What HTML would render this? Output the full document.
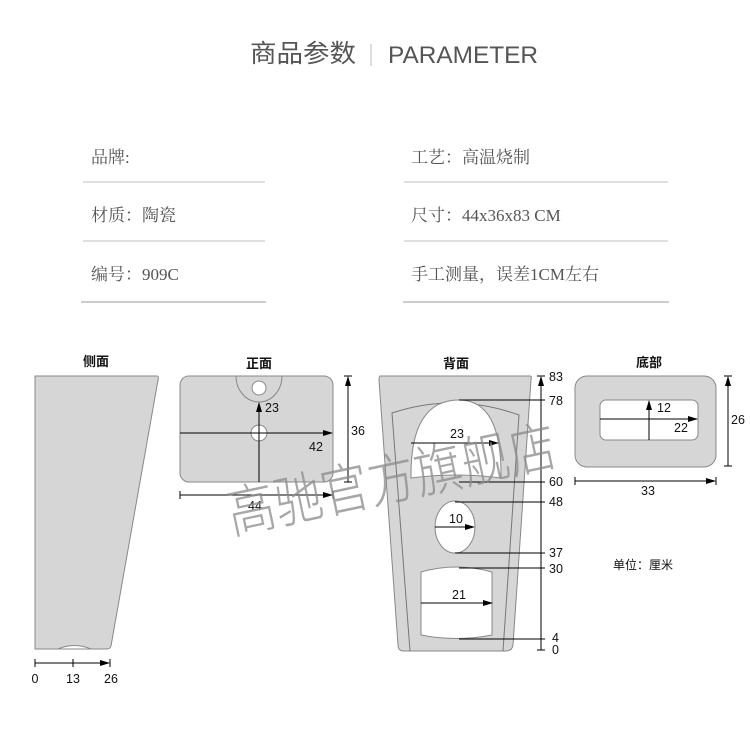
<!DOCTYPE html>
<html><head><meta charset="utf-8"><style>
html,body{margin:0;padding:0;background:#fff;}
svg{display:block;}
.s{font-family:"Liberation Serif","Noto Serif CJK SC",serif;fill:#555;font-size:17px;}
.d{font-family:"Liberation Sans","Noto Sans CJK SC",sans-serif;font-size:12.5px;fill:#111;}
.t{font-family:"Liberation Sans","Noto Sans CJK SC",sans-serif;font-size:13px;fill:#111;font-weight:bold;}
</style></head><body>
<svg width="750" height="730" viewBox="0 0 750 730" xmlns="http://www.w3.org/2000/svg">
<defs><marker id="a" markerWidth="10" markerHeight="8" refX="9" refY="4" orient="auto" markerUnits="userSpaceOnUse"><path d="M0,1 L10,4 L0,7 z" fill="#000"/></marker></defs>
<text x="250" y="62" font-family="Liberation Sans,Noto Sans CJK SC,sans-serif" font-size="25" fill="#555" textLength="106" lengthAdjust="spacingAndGlyphs">商品参数</text>
<line x1="371" y1="44" x2="371" y2="66" stroke="#bbb"/>
<text x="388" y="63" font-family="Liberation Sans,sans-serif" font-size="24" fill="#555" textLength="150" lengthAdjust="spacingAndGlyphs">PARAMETER</text>
<g class="s">
<text x="91" y="163">品牌:</text>
<text x="91" y="221">材质：陶瓷</text>
<text x="91" y="280">编号：909C</text>
<text x="411" y="163">工艺：高温烧制</text>
<text x="411" y="221">尺寸：44x36x83 CM</text>
<text x="411" y="280">手工测量，误差1CM左右</text>
</g>
<g stroke="#ccc" stroke-width="1.2">
<line x1="83" y1="182" x2="265" y2="182"/><line x1="83" y1="241" x2="265" y2="241"/><line x1="81" y1="302" x2="266" y2="302" stroke-width="2"/>
<line x1="404" y1="182" x2="668" y2="182"/><line x1="404" y1="241" x2="668" y2="241"/><line x1="403" y1="302" x2="669" y2="302" stroke-width="2"/>
</g>
<text class="t" x="96" y="366" text-anchor="middle">侧面</text>
<text class="t" x="259" y="368" text-anchor="middle">正面</text>
<text class="t" x="456" y="368" text-anchor="middle">背面</text>
<text class="t" x="649" y="367" text-anchor="middle">底部</text>
<path d="M35,376 L157,376 Q159,376 158,380 L111,646 Q110,649 107,649 L35,649 Z" fill="#d6d6d6" stroke="#888"/>
<path d="M58,649 Q74,642 91,649 Z" fill="#fff" stroke="#888"/>
<g stroke="#000" fill="none"><line x1="35" y1="663" x2="109" y2="663" marker-end="url(#a)"/><line x1="35" y1="659" x2="35" y2="667"/><line x1="73" y1="659" x2="73" y2="667"/><line x1="110" y1="659" x2="110" y2="667"/></g>
<g class="d" font-size="13"><text x="35" y="683" text-anchor="middle">0</text><text x="73" y="683" text-anchor="middle">13</text><text x="111" y="683" text-anchor="middle">26</text></g>
<rect x="180" y="376" width="153" height="106" rx="9" fill="#d6d6d6" stroke="#888"/>
<path d="M236,376 A23,26 0 0 0 282,376" fill="none" stroke="#888"/>
<circle cx="259" cy="388" r="7" fill="#fff" stroke="#888"/>
<circle cx="259" cy="433" r="8" fill="#fff" stroke="#888"/>
<g stroke="#000" fill="none"><line x1="180" y1="433" x2="332" y2="433" marker-end="url(#a)"/><line x1="259" y1="482" x2="259" y2="403" marker-end="url(#a)"/>
<line x1="348" y1="482" x2="348" y2="377" marker-end="url(#a)"/><line x1="344" y1="376" x2="352" y2="376"/><line x1="344" y1="482" x2="352" y2="482"/>
<line x1="180" y1="495" x2="332" y2="495" marker-end="url(#a)"/><line x1="180" y1="491" x2="180" y2="499"/><line x1="333" y1="491" x2="333" y2="499"/></g>
<g class="d"><text x="265" y="412">23</text><text x="309" y="451">42</text><text x="351" y="435">36</text><text x="248" y="510">44</text></g>
<path d="M380,376 L530,376 Q532,376 531,380 L513,645 Q512,651 506,651 L404,651 Q398,651 398,645 L379,380 Q379,376 380,376 Z" fill="#d6d6d6" stroke="#888"/>
<path d="M410,651 L392,413 Q455,392 519,415 L503,651" fill="none" stroke="#777"/>
<path d="M411,478 Q410,400 459,400 Q502,400 501,478 Q456,472 411,478 Z" fill="#fff" stroke="#888"/>
<ellipse cx="455" cy="527" rx="20" ry="26" fill="#fff" stroke="#888"/>
<path d="M421,572 Q456,562 492,572 L492,635 Q456,642 421,635 Z" fill="#fff" stroke="#888"/>
<g stroke="#000" fill="none">
<line x1="541" y1="650" x2="541" y2="377" marker-end="url(#a)"/><line x1="537" y1="376" x2="545" y2="376"/><line x1="537" y1="650" x2="545" y2="650"/>
<line x1="459" y1="400" x2="545" y2="400"/><line x1="459" y1="482" x2="545" y2="482"/><line x1="455" y1="502" x2="545" y2="502"/><line x1="455" y1="553" x2="545" y2="553"/><line x1="459" y1="568" x2="545" y2="568"/><line x1="459" y1="639" x2="545" y2="639"/>
<line x1="411" y1="443" x2="498" y2="443" marker-end="url(#a)"/><line x1="435" y1="527" x2="474" y2="527" marker-end="url(#a)"/><line x1="421" y1="603" x2="492" y2="603" marker-end="url(#a)"/></g>
<g class="d"><text x="549" y="381">83</text><text x="549" y="405">78</text><text x="549" y="486">60</text><text x="549" y="506">48</text><text x="549" y="557">37</text><text x="549" y="573">30</text><text x="552" y="642">4</text><text x="552" y="654">0</text>
<text x="450" y="438">23</text><text x="449" y="523">10</text><text x="452" y="599">21</text></g>
<rect x="575" y="376" width="141" height="91" rx="12" fill="#d6d6d6" stroke="#888"/>
<rect x="600" y="400" width="98" height="40" rx="6" fill="#fff" stroke="#888"/>
<g stroke="#000" fill="none"><line x1="649" y1="440" x2="649" y2="401" marker-end="url(#a)"/><line x1="600" y1="419" x2="697" y2="419" marker-end="url(#a)"/>
<line x1="728" y1="466" x2="728" y2="377" marker-end="url(#a)"/><line x1="724" y1="376" x2="732" y2="376"/><line x1="724" y1="466" x2="732" y2="466"/>
<line x1="575" y1="481" x2="715" y2="481" marker-end="url(#a)"/><line x1="575" y1="477" x2="575" y2="485"/><line x1="716" y1="477" x2="716" y2="485"/></g>
<g class="d"><text x="657" y="412">12</text><text x="674" y="432">22</text><text x="731" y="424">26</text><text x="641" y="495">33</text></g>
<text x="613" y="569" font-family="Liberation Sans,Noto Sans CJK SC,sans-serif" font-size="12" fill="#111">单位：厘米</text>
<text x="232" y="534" transform="rotate(-12 232 534)" font-family="Liberation Sans,Noto Sans CJK SC,sans-serif" font-size="56" font-weight="300" fill="#8a8a8a" fill-opacity="0.75" textLength="335" lengthAdjust="spacingAndGlyphs">高驰官方旗舰店</text>
</svg>
</body></html>
